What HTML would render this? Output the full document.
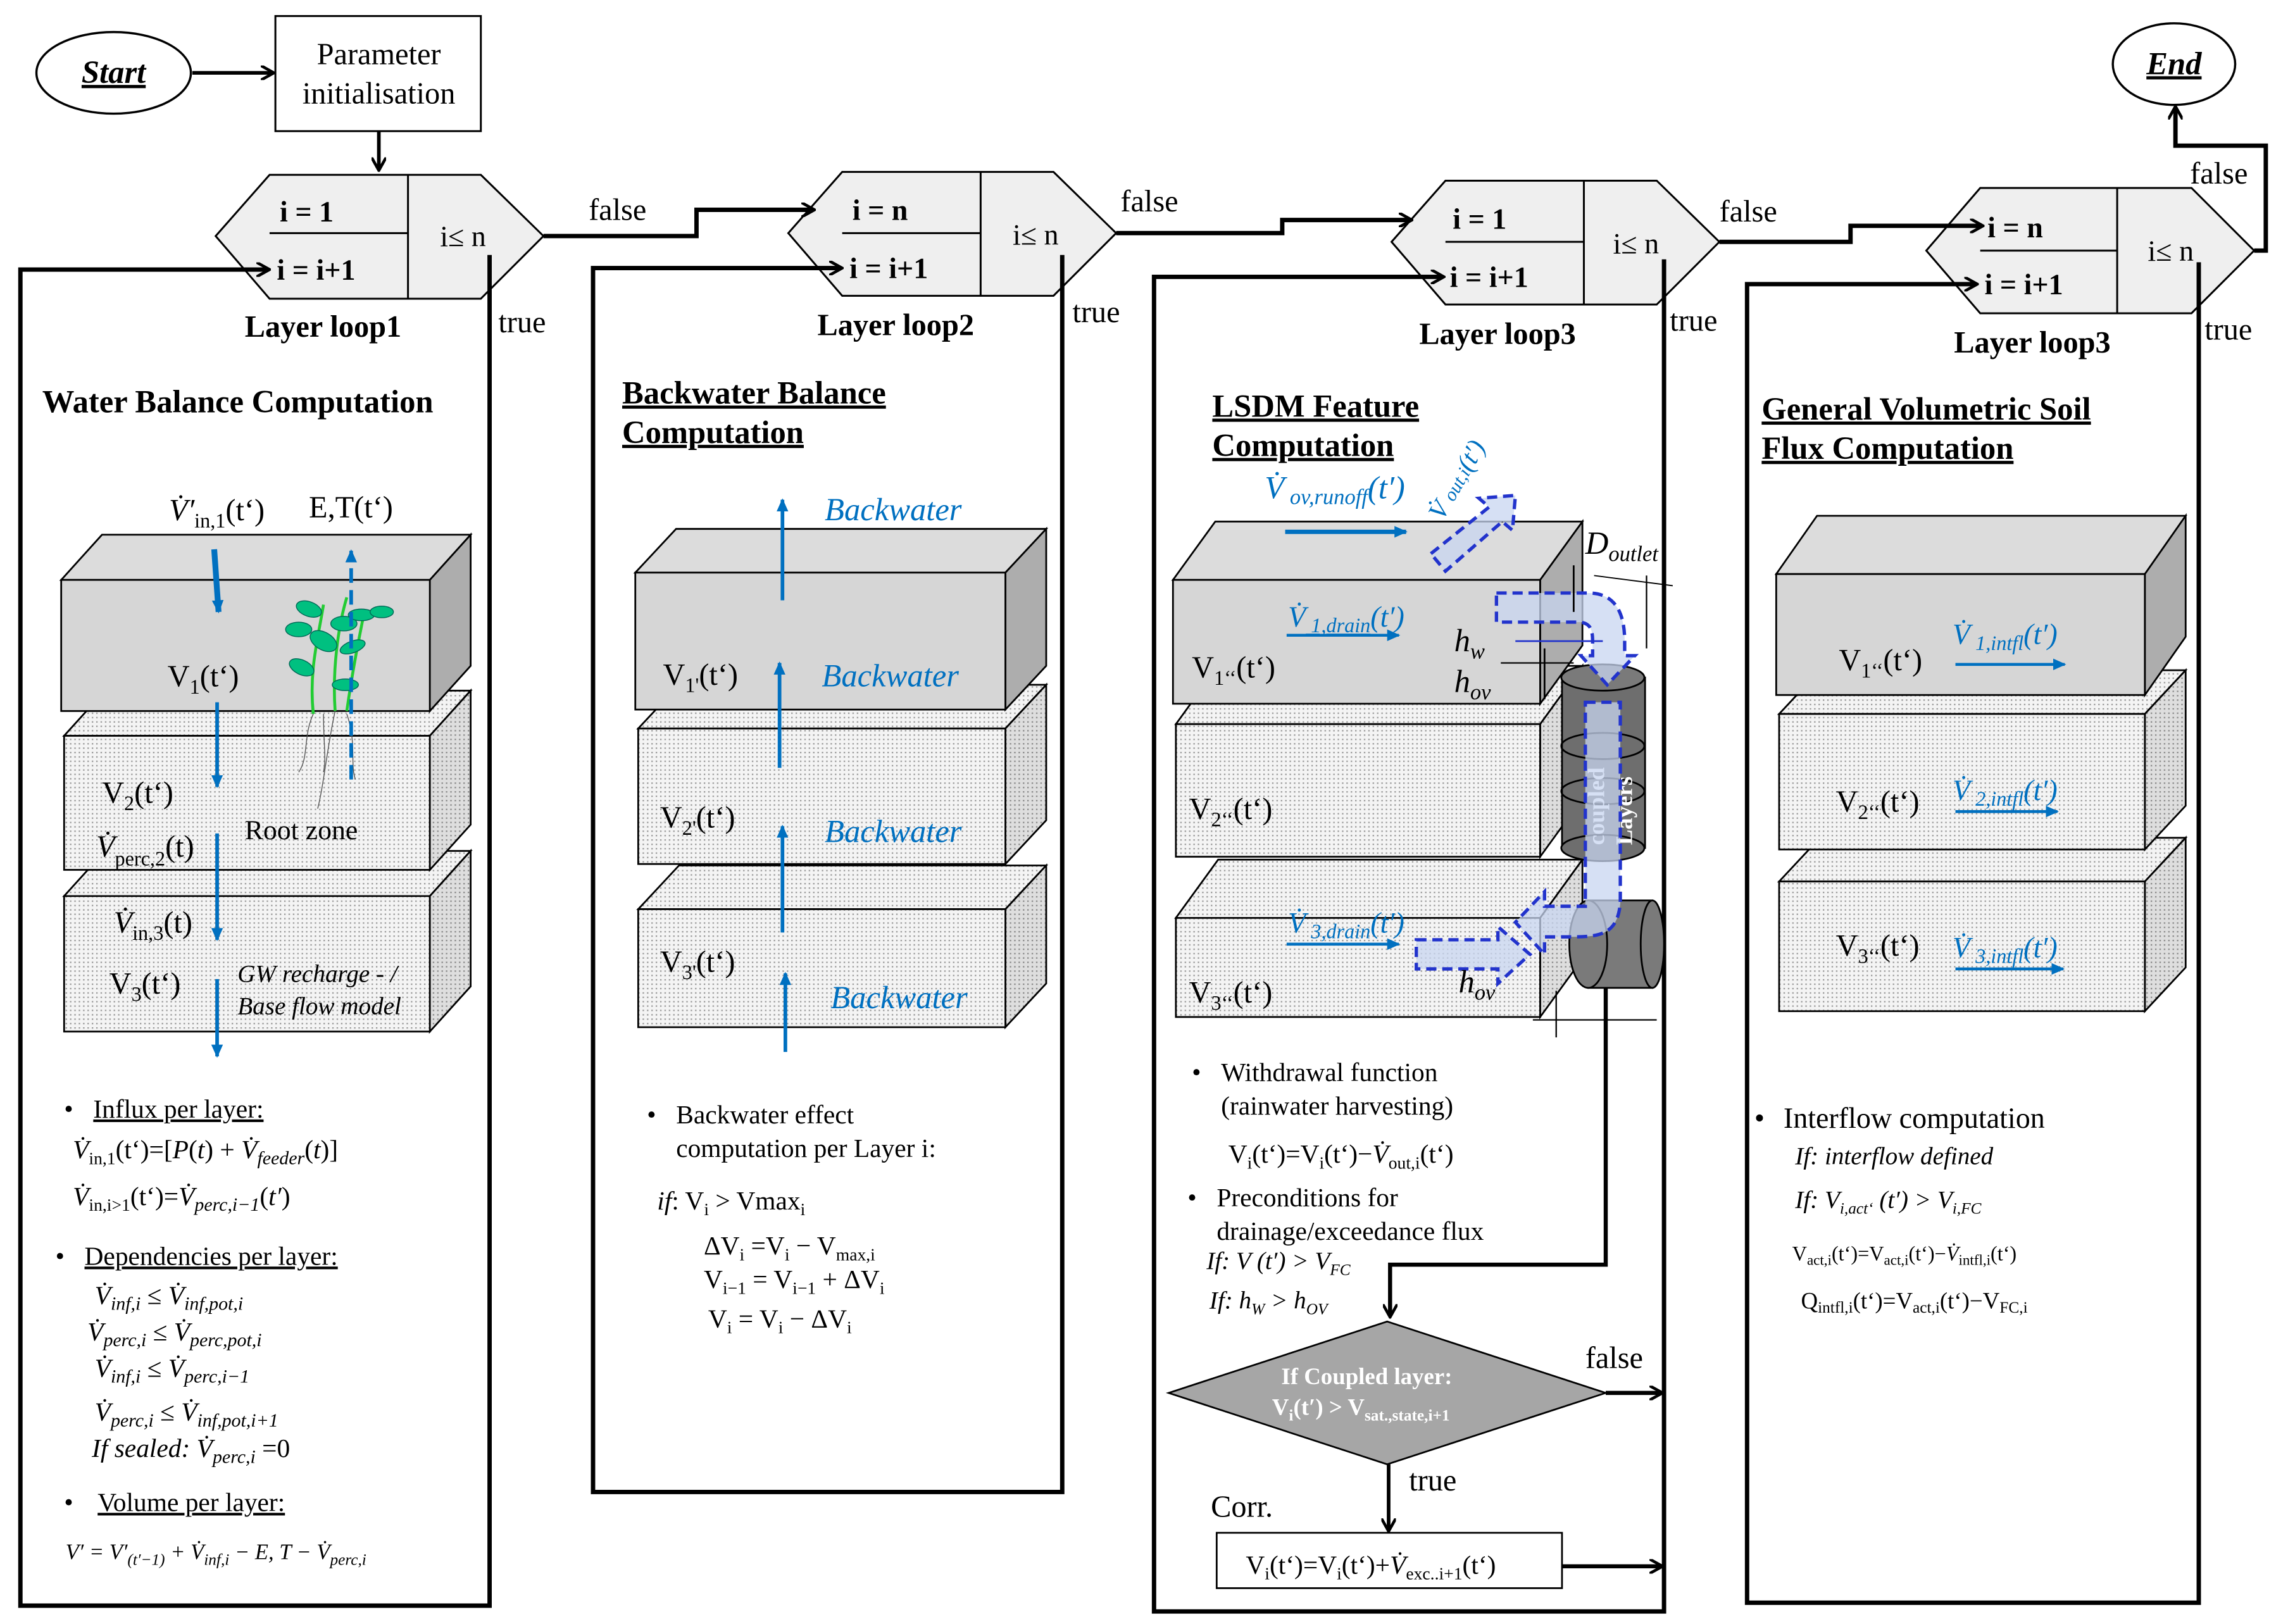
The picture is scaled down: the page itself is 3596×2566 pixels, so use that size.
<!DOCTYPE html>
<html><head><meta charset="utf-8">
<style>
html,body{margin:0;padding:0;background:#fff;}
svg{display:block;}
text{font-family:"Liberation Serif",serif;}
</style></head>
<body>
<svg width="3596" height="2566" viewBox="0 0 1562 1114.6" preserveAspectRatio="none" xmlns="http://www.w3.org/2000/svg">
<defs>
<marker id="ak" markerWidth="10" markerHeight="10" refX="8" refY="5" orient="auto" markerUnits="userSpaceOnUse"><path d="M0,0 L9,5 L0,10" fill="none" stroke="#000" stroke-width="2"/></marker>
<marker id="ab" markerWidth="10" markerHeight="10" refX="8" refY="5" orient="auto" markerUnits="userSpaceOnUse"><path d="M0,1 L9,5 L0,9 Z" fill="#0070c0"/></marker>
<pattern id="dots" width="3" height="3" patternUnits="userSpaceOnUse"><rect width="3" height="3" fill="#f4f4f4"/><rect width="1" height="1" fill="#999"/></pattern>
<pattern id="dots2" width="3" height="3" patternUnits="userSpaceOnUse"><rect width="3" height="3" fill="#dedede"/><rect width="1" height="1" fill="#888"/></pattern>
</defs>
<rect width="1562" height="1114.6" fill="#fff"/>

<g font-size="19">
<!-- Start / Param -->
<ellipse cx="78" cy="50" rx="53" ry="28" fill="#fff" stroke="#000" stroke-width="1.5"/>
<text x="78" y="57" text-anchor="middle" font-size="22" font-style="italic" font-weight="bold" text-decoration="underline">Start</text>
<line x1="132" y1="50" x2="187" y2="50" stroke="#000" stroke-width="2.5" marker-end="url(#ak)"/>
<rect x="189" y="11" width="141" height="79" fill="#fff" stroke="#000" stroke-width="1.3"/>
<text x="260" y="44" text-anchor="middle" font-size="21">Parameter</text>
<text x="260" y="71" text-anchor="middle" font-size="21">initialisation</text>
<line x1="260" y1="90" x2="260" y2="116" stroke="#000" stroke-width="2.5" marker-end="url(#ak)"/>

<!-- End -->
<ellipse cx="1492" cy="44" rx="42" ry="28" fill="#fff" stroke="#000" stroke-width="1.5"/>
<text x="1492" y="51" text-anchor="middle" font-size="22" font-style="italic" font-weight="bold" text-decoration="underline">End</text>

<!-- Loop hexagons -->
<g stroke="#000" stroke-width="1.3" fill="#efefef">
<polygon points="148,162 185,120 330,120 373,162 330,205 185,205"/>
<line x1="280" y1="120" x2="280" y2="205"/><line x1="185" y1="160" x2="280" y2="160"/>
<polygon points="541,160 578,118 723,118 766,160 723,203 578,203"/>
<line x1="673" y1="118" x2="673" y2="203"/><line x1="578" y1="160" x2="673" y2="160"/>
<polygon points="955,166 992,124 1137,124 1180,166 1137,209 992,209"/>
<line x1="1087" y1="124" x2="1087" y2="209"/><line x1="992" y1="166" x2="1087" y2="166"/>
<polygon points="1322,172 1359,129 1504,129 1547,172 1504,215 1359,215"/>
<line x1="1453" y1="129" x2="1453" y2="215"/><line x1="1359" y1="172" x2="1453" y2="172"/>
</g>
<g font-size="20" font-weight="bold">
<text x="192" y="152">i = 1</text><text x="190" y="192">i = i+1</text>
<text x="585" y="151">i = n</text><text x="583" y="191">i = i+1</text>
<text x="997" y="157">i = 1</text><text x="995" y="197">i = i+1</text>
<text x="1364" y="163">i = n</text><text x="1362" y="202">i = i+1</text>
</g>
<text x="302" y="169" font-size="20">i≤ n</text>
<text x="695" y="168" font-size="20">i≤ n</text>
<text x="1107" y="174" font-size="20">i≤ n</text>
<text x="1474" y="179" font-size="20">i≤ n</text>

<!-- Panel frames -->
<g fill="none" stroke="#000" stroke-width="3">
<polyline points="184,185 14,185 14,1102 336,1102 336,175"/>
<polyline points="577,184 407,184 407,1024 729,1024 729,175"/>
<polyline points="990,190 792,190 792,1106 1142,1106 1142,178"/>
<polyline points="1356,195 1199,195 1199,1100 1509,1100 1509,180"/>
<polyline points="373,162 478,162 478,144 558,144"/>
<polyline points="766,160 880,160 880,151 968,151"/>
<polyline points="1180,166 1270,166 1270,155 1360,155"/>
<polyline points="1547,172 1555,172 1555,100 1493,100 1493,74"/>
</g>
<g stroke="#000" stroke-width="2.5">
<line x1="170" y1="185" x2="184" y2="185" marker-end="url(#ak)"/>
<line x1="560" y1="184" x2="577" y2="184" marker-end="url(#ak)"/>
<line x1="975" y1="190" x2="990" y2="190" marker-end="url(#ak)"/>
<line x1="1340" y1="195" x2="1356" y2="195" marker-end="url(#ak)"/>
<line x1="540" y1="144" x2="558" y2="144" marker-end="url(#ak)"/>
<line x1="950" y1="151" x2="968" y2="151" marker-end="url(#ak)"/>
<line x1="1340" y1="155" x2="1360" y2="155" marker-end="url(#ak)"/>
<line x1="1493" y1="90" x2="1493" y2="74" marker-end="url(#ak)"/>
</g>
<text x="404" y="151" font-size="21">false</text>
<text x="769" y="145" font-size="21">false</text>
<text x="1180" y="152" font-size="21">false</text>
<text x="1503" y="126" font-size="21">false</text>
<text x="342" y="228" font-size="21">true</text>
<text x="736" y="221" font-size="21">true</text>
<text x="1146" y="227" font-size="21">true</text>
<text x="1513" y="233" font-size="21">true</text>
<g font-size="21" font-weight="bold">
<text x="168" y="231">Layer loop1</text>
<text x="561" y="230">Layer loop2</text>
<text x="974" y="236">Layer loop3</text>
<text x="1341" y="242">Layer loop3</text>
</g>

<!-- Titles -->
<g font-size="22" font-weight="bold">
<text x="29" y="283">Water Balance Computation</text>
<text x="427" y="277" text-decoration="underline">Backwater Balance</text>
<text x="427" y="304" text-decoration="underline">Computation</text>
<text x="832" y="286" text-decoration="underline">LSDM Feature</text>
<text x="832" y="313" text-decoration="underline">Computation</text>
<text x="1209" y="288" text-decoration="underline">General Volumetric Soil</text>
<text x="1209" y="315" text-decoration="underline">Flux Computation</text>
</g>

<!-- Panel 1 boxes -->
<g stroke="#000" stroke-width="1.2">
<polygon points="44,615 72,584 323,584 295,615" fill="url(#dots)"/>
<polygon points="295,615 323,584 323,677 295,708" fill="url(#dots2)"/>
<rect x="44" y="615" width="251" height="93" fill="url(#dots)"/>
<polygon points="44,505 72,474 323,474 295,505" fill="url(#dots)"/>
<polygon points="295,505 323,474 323,566 295,597" fill="url(#dots2)"/>
<rect x="44" y="505" width="251" height="92" fill="url(#dots)"/>
<polygon points="42,398 70,367 323,367 295,398" fill="#dcdcdc"/>
<polygon points="295,398 323,367 323,457 295,488" fill="#adadad"/>
<rect x="42" y="398" width="253" height="90" fill="#d6d6d6"/>
</g>
<!-- plant -->
<g stroke="#22cc33" stroke-width="2" fill="none">
<path d="M215,490 C212,460 218,440 222,415"/><path d="M230,488 C228,460 232,430 238,410"/><path d="M238,488 C242,460 246,440 250,420"/>
</g>
<g fill="#00c080" stroke="#065" stroke-width="0.6">
<ellipse cx="212" cy="418" rx="9" ry="5" transform="rotate(20 212 418)"/><ellipse cx="205" cy="432" rx="9" ry="5"/><ellipse cx="222" cy="440" rx="10" ry="6" transform="rotate(30 222 440)"/>
<ellipse cx="236" cy="428" rx="9" ry="5"/><ellipse cx="248" cy="422" rx="9" ry="4"/><ellipse cx="262" cy="420" rx="8" ry="4"/>
<ellipse cx="242" cy="444" rx="9" ry="4" transform="rotate(-20 242 444)"/><ellipse cx="207" cy="458" rx="9" ry="5" transform="rotate(25 207 458)"/><ellipse cx="237" cy="470" rx="9" ry="4"/>
</g>
<g stroke="#555" stroke-width="0.6" fill="none">
<path d="M215,490 C208,505 212,520 205,530"/><path d="M230,488 C225,510 222,540 218,555"/><path d="M238,490 C245,510 240,525 244,535"/><path d="M222,490 C222,510 224,520 222,530"/>
</g>
<g stroke="#0070c0" fill="none">
<line x1="147" y1="377" x2="150" y2="420" stroke-width="4" marker-end="url(#ab)"/>
<line x1="241" y1="535" x2="241" y2="378" stroke-width="2.5" stroke-dasharray="10,5" marker-end="url(#ab)"/>
<line x1="149" y1="482" x2="149" y2="540" stroke-width="2.5" marker-end="url(#ab)"/>
<line x1="149" y1="572" x2="149" y2="645" stroke-width="2.5" marker-end="url(#ab)"/>
<line x1="149" y1="672" x2="149" y2="725" stroke-width="2.5" marker-end="url(#ab)"/>
</g>
<text x="116" y="357" font-size="21"><tspan font-style="italic">V̇′</tspan><tspan font-size="14" dy="5">in,1</tspan><tspan dy="-5">(t‘)</tspan></text>
<text x="212" y="355" font-size="21">E,T(t‘)</text>
<text x="115" y="471" font-size="21">V<tspan font-size="14" dy="5">1</tspan><tspan dy="-5">(t‘)</tspan></text>
<text x="70" y="551" font-size="21">V<tspan font-size="14" dy="5">2</tspan><tspan dy="-5">(t‘)</tspan></text>
<text x="168" y="576" font-size="19">Root zone</text>
<text x="66" y="588" font-size="21"><tspan font-style="italic">V̇</tspan><tspan font-size="14" dy="6">perc,2</tspan><tspan dy="-6">(t)</tspan></text>
<text x="78" y="640" font-size="21"><tspan font-style="italic">V̇</tspan><tspan font-size="14" dy="5">in,3</tspan><tspan dy="-5">(t)</tspan></text>
<text x="75" y="682" font-size="21">V<tspan font-size="14" dy="5">3</tspan><tspan dy="-5">(t‘)</tspan></text>
<text x="163" y="674" font-size="17" font-style="italic">GW recharge - /</text>
<text x="163" y="696" font-size="17" font-style="italic">Base flow model</text>

<!-- Panel1 text -->
<g font-size="18">
<text x="44" y="767">•</text><text x="64" y="767" text-decoration="underline">Influx per layer:</text>
<text x="50" y="795"><tspan font-style="italic">V̇</tspan><tspan font-size="12" dy="4">in,1</tspan><tspan dy="-4">(t‘)=[</tspan><tspan font-style="italic">P</tspan>(<tspan font-style="italic">t</tspan>) + <tspan font-style="italic">V̇</tspan><tspan font-size="13" font-style="italic" dy="4">feeder</tspan><tspan dy="-4">(</tspan><tspan font-style="italic">t</tspan>)]</text>
<text x="50" y="827"><tspan font-style="italic">V̇</tspan><tspan font-size="12" dy="4">in,i&gt;1</tspan><tspan dy="-4">(t‘)=</tspan><tspan font-style="italic">V̇</tspan><tspan font-size="13" font-style="italic" dy="4">perc,i−1</tspan><tspan dy="-4">(</tspan><tspan font-style="italic">t′</tspan>)</text>
<text x="38" y="868">•</text><text x="58" y="868" text-decoration="underline">Dependencies per layer:</text>
<text x="65" y="895" font-style="italic">V̇<tspan font-size="13" dy="4">inf,i</tspan><tspan dy="-4" font-style="normal">  ≤ </tspan>V̇<tspan font-size="13" dy="4">inf,pot,i</tspan></text>
<text x="60" y="920" font-style="italic">V̇<tspan font-size="13" dy="4">perc,i</tspan><tspan dy="-4" font-style="normal">  ≤ </tspan>V̇<tspan font-size="13" dy="4">perc,pot,i</tspan></text>
<text x="65" y="945" font-style="italic">V̇<tspan font-size="13" dy="4">inf,i</tspan><tspan dy="-4" font-style="normal">  ≤ </tspan>V̇<tspan font-size="13" dy="4">perc,i−1</tspan></text>
<text x="65" y="975" font-style="italic">V̇<tspan font-size="13" dy="4">perc,i</tspan><tspan dy="-4" font-style="normal">  ≤ </tspan>V̇<tspan font-size="13" dy="4">inf,pot,i+1</tspan></text>
<text x="63" y="1000" font-style="italic">If sealed: V̇<tspan font-size="13" dy="4">perc,i</tspan><tspan dy="-4" font-style="normal"> =0</tspan></text>
<text x="44" y="1037">•</text><text x="67" y="1037" text-decoration="underline">Volume per layer:</text>
<text x="45" y="1070" font-size="15" font-style="italic">V′ = V′<tspan font-size="11" dy="4">(t′−1)</tspan><tspan dy="-4"> + V̇</tspan><tspan font-size="11" dy="4">inf,i</tspan><tspan dy="-4"> − E, T − V̇</tspan><tspan font-size="11" dy="4">perc,i</tspan></text>
</g>

<!-- Panel 2 boxes -->
<g stroke="#000" stroke-width="1.2">
<polygon points="438,624 466,594 718,594 690,624" fill="url(#dots)"/>
<polygon points="690,624 718,594 718,675 690,705" fill="url(#dots2)"/>
<rect x="438" y="624" width="252" height="81" fill="url(#dots)"/>
<polygon points="438,500 466,470 718,470 690,500" fill="url(#dots)"/>
<polygon points="690,500 718,470 718,563 690,593" fill="url(#dots2)"/>
<rect x="438" y="500" width="252" height="93" fill="url(#dots)"/>
<polygon points="436,393 464,363 718,363 690,393" fill="#dcdcdc"/>
<polygon points="690,393 718,363 718,457 690,487" fill="#adadad"/>
<rect x="436" y="393" width="254" height="94" fill="#d6d6d6"/>
</g>
<g stroke="#0070c0" stroke-width="2.5">
<line x1="537" y1="412" x2="537" y2="343" marker-end="url(#ab)"/>
<line x1="535" y1="527" x2="535" y2="455" marker-end="url(#ab)"/>
<line x1="537" y1="640" x2="537" y2="567" marker-end="url(#ab)"/>
<line x1="539" y1="722" x2="539" y2="668" marker-end="url(#ab)"/>
</g>
<g font-size="22" font-style="italic" fill="#0070c0">
<text x="566" y="357">Backwater</text><text x="564" y="471">Backwater</text>
<text x="566" y="578">Backwater</text><text x="570" y="692">Backwater</text>
</g>
<text x="455" y="470" font-size="21">V<tspan font-size="14" dy="5">1'</tspan><tspan dy="-5">(t‘)</tspan></text>
<text x="453" y="568" font-size="21">V<tspan font-size="14" dy="5">2'</tspan><tspan dy="-5">(t‘)</tspan></text>
<text x="453" y="667" font-size="21">V<tspan font-size="14" dy="5">3'</tspan><tspan dy="-5">(t‘)</tspan></text>
<g font-size="18">
<text x="444" y="771">•</text><text x="464" y="771">Backwater effect</text>
<text x="464" y="794">computation per Layer i:</text>
<text x="451" y="830"><tspan font-style="italic">if</tspan>:  V<tspan font-size="12" dy="4">i</tspan><tspan dy="-4"> &gt; Vmax</tspan><tspan font-size="12" dy="4">i</tspan></text>
<text x="483" y="861">ΔV<tspan font-size="12" dy="4">i</tspan><tspan dy="-4"> =V</tspan><tspan font-size="12" dy="4">i</tspan><tspan dy="-4">  − V</tspan><tspan font-size="12" dy="4">max,i</tspan></text>
<text x="483" y="884">V<tspan font-size="12" dy="4">i−1</tspan><tspan dy="-4"> = V</tspan><tspan font-size="12" dy="4">i−1</tspan><tspan dy="-4"> + ΔV</tspan><tspan font-size="12" dy="4">i</tspan></text>
<text x="486" y="911">V<tspan font-size="12" dy="4">i</tspan><tspan dy="-4"> = V</tspan><tspan font-size="12" dy="4">i</tspan><tspan dy="-4"> − ΔV</tspan><tspan font-size="12" dy="4">i</tspan></text>
</g>

<!-- Panel 3 boxes -->
<g stroke="#000" stroke-width="1.2">
<polygon points="807,630 836,590 1086,590 1057,630" fill="url(#dots)"/>
<polygon points="1057,630 1086,590 1086,658 1057,698" fill="url(#dots2)"/>
<rect x="807" y="630" width="250" height="68" fill="url(#dots)"/>
<polygon points="807,497 836,457 1086,457 1057,497" fill="url(#dots)"/>
<polygon points="1057,497 1086,457 1086,548 1057,588" fill="url(#dots2)"/>
<rect x="807" y="497" width="250" height="91" fill="url(#dots)"/>
<polygon points="805,398 834,358 1086,358 1057,398" fill="#dcdcdc"/>
<polygon points="1057,398 1086,358 1086,443 1057,483" fill="#adadad"/>
<rect x="805" y="398" width="252" height="85" fill="#d6d6d6"/>
</g>
<!-- cylinders -->
<g stroke="#000" stroke-width="1.2">
<rect x="1072" y="465" width="57" height="117" fill="#6e6e6e"/>
<ellipse cx="1100" cy="582" rx="28.5" ry="9" fill="#6e6e6e"/>
<ellipse cx="1100" cy="512" rx="28.5" ry="9" fill="none"/>
<ellipse cx="1100" cy="543" rx="28.5" ry="9" fill="none"/>
<ellipse cx="1100" cy="465" rx="28.5" ry="9" fill="#7a7a7a"/>
<rect x="1090" y="618" width="44" height="60" fill="#7a7a7a"/>
<ellipse cx="1134" cy="648" rx="8" ry="30" fill="#7a7a7a"/>
<ellipse cx="1090" cy="648" rx="13" ry="30" fill="#7a7a7a"/>
</g>
<text transform="translate(1101,580) rotate(-90)" font-size="16" font-weight="bold" fill="#fff">coupled</text>
<text transform="translate(1120,580) rotate(-90)" font-size="16" font-weight="bold" fill="#fff">Layers</text>
<g fill="#c8d6f0" fill-opacity="0.75" stroke="#2233cc" stroke-width="2.3" stroke-dasharray="7,4">
<path d="M982,380 L1022,348 L1015,342 L1040,340 L1038,364 L1031,358 L992,392 Z"/>
<path d="M1027,407 L1090,407 C1108,407 1115,420 1115,440 L1115,450 L1122,450 L1103,470 L1085,450 L1093,450 L1093,440 C1093,430 1090,428 1085,427 L1027,427 Z"/>
<path d="M1088,482 L1112,482 L1112,620 C1110,640 1100,643 1080,643 L1060,643 L1060,655 L1040,633 L1060,612 L1060,622 L1088,622 Z"/>
<path d="M972,645 L1028,645 L1028,636 L1050,655 L1028,675 L1028,665 L972,665 Z"/>
</g>
<line x1="1094" y1="395" x2="1148" y2="402" stroke="#000" stroke-width="0.8"/>
<line x1="1130" y1="395" x2="1130" y2="445" stroke="#000" stroke-width="1"/>
<line x1="1080" y1="388" x2="1080" y2="420" stroke="#000" stroke-width="1.2"/>
<line x1="1060" y1="445" x2="1060" y2="480" stroke="#000" stroke-width="1.2"/>
<line x1="1040" y1="440" x2="1100" y2="440" stroke="#2233cc" stroke-width="1.2"/>
<line x1="1030" y1="455" x2="1080" y2="455" stroke="#000" stroke-width="1"/>
<line x1="1052" y1="700" x2="1137" y2="700" stroke="#000" stroke-width="1"/>
<line x1="1068" y1="680" x2="1068" y2="712" stroke="#000" stroke-width="1"/>
<text x="1088" y="380" font-size="22" font-style="italic">D<tspan font-size="15" dy="5">outlet</tspan></text>
<text x="998" y="447" font-size="22" font-style="italic">h<tspan font-size="15" dy="5">w</tspan></text>
<text x="998" y="475" font-size="22" font-style="italic">h<tspan font-size="15" dy="5">ov</tspan></text>
<text x="1001" y="681" font-size="22" font-style="italic">h<tspan font-size="15" dy="5">ov</tspan></text>
<g stroke="#0070c0">
<line x1="882" y1="365" x2="965" y2="365" stroke-width="3" marker-end="url(#ab)"/>
<line x1="883" y1="436" x2="960" y2="436" stroke-width="2" marker-end="url(#ab)"/>
<line x1="883" y1="648" x2="960" y2="648" stroke-width="2" marker-end="url(#ab)"/>
</g>
<g fill="#0070c0" font-style="italic">
<text x="868" y="342" font-size="22">V̇<tspan font-size="15" dy="4"> ov,runoff</tspan><tspan dy="-4">(t′)</tspan></text>
<text transform="translate(990,358) rotate(-60)" font-size="18">V̇  <tspan font-size="13">out,i</tspan>(t′)</text>
<text x="884" y="430" font-size="20">V̇<tspan font-size="14" dy="4" text-decoration="underline"> 1,drain</tspan><tspan dy="-4">(t′)</tspan></text>
<text x="884" y="640" font-size="20">V̇<tspan font-size="14" dy="4"> 3,drain</tspan><tspan dy="-4">(t′)</tspan></text>
</g>
<text x="818" y="465" font-size="21">V<tspan font-size="14" dy="5">1‘‘</tspan><tspan dy="-5">(t‘)</tspan></text>
<text x="816" y="562" font-size="21">V<tspan font-size="14" dy="5">2‘‘</tspan><tspan dy="-5">(t‘)</tspan></text>
<text x="816" y="688" font-size="21">V<tspan font-size="14" dy="5">3‘‘</tspan><tspan dy="-5">(t‘)</tspan></text>
<g font-size="18">
<text x="818" y="742">•</text><text x="838" y="742">Withdrawal function</text>
<text x="838" y="765">(rainwater harvesting)</text>
<text x="843" y="798">V<tspan font-size="12" dy="4">i</tspan><tspan dy="-4">(t‘)=V</tspan><tspan font-size="12" dy="4">i</tspan><tspan dy="-4">(t‘)−</tspan><tspan font-style="italic">V̇</tspan><tspan font-size="12" dy="4">out,i</tspan><tspan dy="-4">(t‘)</tspan></text>
<text x="815" y="828">•</text><text x="835" y="828">Preconditions for</text>
<text x="835" y="851">drainage/exceedance flux</text>
<text x="828" y="871" font-style="italic" font-size="17">If: V (t′)  &gt; V<tspan font-size="11" dy="4">FC</tspan></text>
<text x="830" y="898" font-style="italic" font-size="17">If: h<tspan font-size="11" dy="4">W</tspan><tspan dy="-4"> &gt; h</tspan><tspan font-size="11" dy="4">OV</tspan></text>
</g>
<polyline points="1102,678 1102,868 954,868 954,903" fill="none" stroke="#000" stroke-width="2.8" marker-end="url(#ak)"/>
<polygon points="802,956 952,907 1102,956 952,1005" fill="#a6a6a6" stroke="#000" stroke-width="1.2"/>
<text x="938" y="950" text-anchor="middle" font-size="16" font-weight="bold" fill="#fff">If Coupled layer:</text>
<text x="873" y="971" font-size="16" font-weight="bold" fill="#fff">V<tspan font-size="11" dy="4">i</tspan><tspan dy="-4">(t′)  &gt; V</tspan><tspan font-size="11" dy="4">sat.,state,i+1</tspan></text>
<line x1="1102" y1="956" x2="1140" y2="956" stroke="#000" stroke-width="2.8" marker-end="url(#ak)"/>
<text x="1088" y="939" font-size="21">false</text>
<line x1="953" y1="1005" x2="953" y2="1050" stroke="#000" stroke-width="2.5" marker-end="url(#ak)"/>
<text x="967" y="1023" font-size="21">true</text>
<text x="831" y="1041" font-size="21">Corr.</text>
<rect x="835" y="1052" width="237" height="38" fill="#fff" stroke="#000" stroke-width="1.2"/>
<text x="855" y="1080" font-size="18">V<tspan font-size="12" dy="4">i</tspan><tspan dy="-4">(t‘)=V</tspan><tspan font-size="12" dy="4">i</tspan><tspan dy="-4">(t‘)+</tspan><tspan font-style="italic">V̇</tspan><tspan font-size="12" dy="4">exc..i+1</tspan><tspan dy="-4">(t‘)</tspan></text>
<line x1="1072" y1="1075" x2="1140" y2="1075" stroke="#000" stroke-width="2.8" marker-end="url(#ak)"/>

<!-- Panel 4 boxes -->
<g stroke="#000" stroke-width="1.2">
<polygon points="1221,605 1249,575 1500,575 1472,605" fill="url(#dots)"/>
<polygon points="1472,605 1500,575 1500,664 1472,694" fill="url(#dots2)"/>
<rect x="1221" y="605" width="251" height="89" fill="url(#dots)"/>
<polygon points="1221,490 1249,460 1500,460 1472,490" fill="url(#dots)"/>
<polygon points="1472,490 1500,460 1500,553 1472,583" fill="url(#dots2)"/>
<rect x="1221" y="490" width="251" height="93" fill="url(#dots)"/>
<polygon points="1219,394 1247,354 1500,354 1472,394" fill="#dcdcdc"/>
<polygon points="1472,394 1500,354 1500,437 1472,477" fill="#adadad"/>
<rect x="1219" y="394" width="253" height="83" fill="#d6d6d6"/>
</g>
<g stroke="#0070c0" stroke-width="2">
<line x1="1342" y1="456" x2="1417" y2="456" marker-end="url(#ab)"/>
<line x1="1342" y1="557" x2="1412" y2="557" marker-end="url(#ab)"/>
<line x1="1342" y1="665" x2="1416" y2="665" marker-end="url(#ab)"/>
</g>
<g fill="#0070c0" font-style="italic" font-size="20">
<text x="1340" y="442">V̇<tspan font-size="14" dy="4"> 1,intfl</tspan><tspan dy="-4">(t′)</tspan></text>
<text x="1340" y="549">V̇<tspan font-size="14" dy="4"> 2,intfl</tspan><tspan dy="-4">(t′)</tspan></text>
<text x="1340" y="657">V̇<tspan font-size="14" dy="4"> 3,intfl</tspan><tspan dy="-4">(t′)</tspan></text>
</g>
<text x="1262" y="460" font-size="21">V<tspan font-size="14" dy="5">1‘‘</tspan><tspan dy="-5">(t‘)</tspan></text>
<text x="1260" y="557" font-size="21">V<tspan font-size="14" dy="5">2‘‘</tspan><tspan dy="-5">(t‘)</tspan></text>
<text x="1260" y="656" font-size="21">V<tspan font-size="14" dy="5">3‘‘</tspan><tspan dy="-5">(t‘)</tspan></text>
<text x="1204" y="774" font-size="20">•</text><text x="1224" y="774" font-size="20">Interflow computation</text>
<text x="1232" y="799" font-size="17" font-style="italic">If: interflow defined</text>
<text x="1232" y="829" font-size="17" font-style="italic">If: V<tspan font-size="11" dy="4">i,act‘</tspan><tspan dy="-4"> (t′) &gt; V</tspan><tspan font-size="11" dy="4">i,FC</tspan></text>
<text x="1230" y="865" font-size="14">V<tspan font-size="10" dy="3">act,i</tspan><tspan dy="-3">(t‘)=V</tspan><tspan font-size="10" dy="3">act,i</tspan><tspan dy="-3">(t‘)−</tspan><tspan font-style="italic">V̇</tspan><tspan font-size="10" dy="3">intfl,i</tspan><tspan dy="-3">(t‘)</tspan></text>
<text x="1236" y="898" font-size="16">Q<tspan font-size="11" dy="3">intfl,i</tspan><tspan dy="-3">(t‘)=V</tspan><tspan font-size="11" dy="3">act,i</tspan><tspan dy="-3">(t‘)−V</tspan><tspan font-size="11" dy="3">FC,i</tspan></text>
</g>
</svg>
</body></html>
